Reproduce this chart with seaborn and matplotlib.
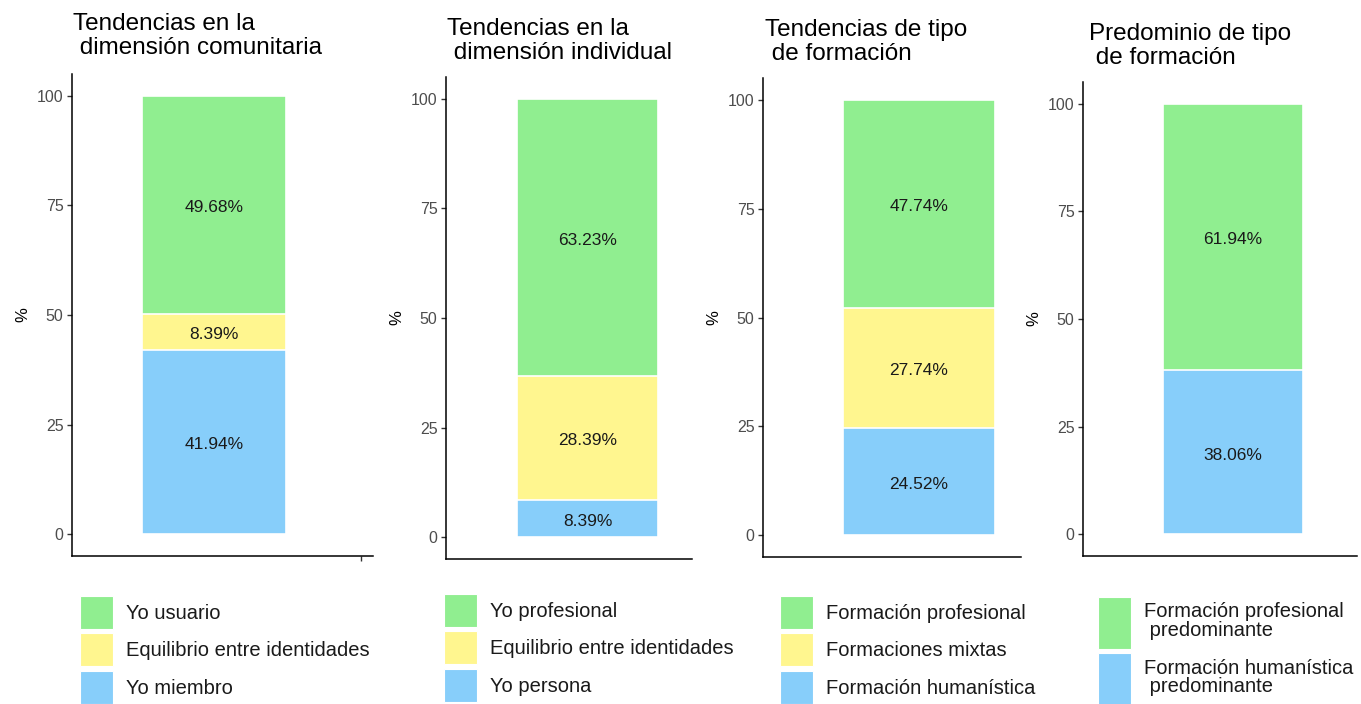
import matplotlib
matplotlib.use("Agg")
import matplotlib.pyplot as plt
import pandas as pd
import seaborn as sns
from matplotlib.patches import Patch

# ----------------------------- DATA --------------------------------------------------------------------

titles = [
    "Tendencias en la\n dimensión comunitaria",
    "Tendencias en la\n dimensión individual",
    "Tendencias de tipo\n de formación",
    "Predominio de tipo\n de formación",
]

# segments listed from top of the bar to the bottom
p1_labels = ["Yo usuario", "Equilibrio entre identidades", "Yo miembro"]
p1_values = [49.68, 8.39, 41.94]

p2_labels = ["Yo profesional", "Equilibrio entre identidades", "Yo persona"]
p2_values = [63.23, 28.39, 8.39]

p3_labels = ["Formación profesional", "Formaciones mixtas", "Formación humanística"]
p3_values = [47.74, 27.74, 24.52]

p4_labels = ["Formación profesional\n predominante", "Formación humanística\n predominante"]
p4_values = [61.94, 38.06]

y_ticks = [0, 25, 50, 75, 100]

# ----------------------------- STYLE / LAYOUT ----------------------------------------------------------

GREEN, YELLOW, BLUE = "#90EE90", "#FFF68F", "#87CEFA"
panel_colors = [
    [GREEN, YELLOW, BLUE],
    [GREEN, YELLOW, BLUE],
    [GREEN, YELLOW, BLUE],
    [GREEN, BLUE],
]

W, H = 1361, 704

# pixel boxes: axes left, right, top, bottom, bar left, bar right
boxes = [
    (72, 373, 74, 556, 142, 286),
    (446, 692, 77, 559, 517, 658),
    (763, 1021, 78, 557, 843, 995),
    (1083, 1357, 82, 556, 1163, 1303),
]
title_pos = [(73, 13), (447, 18), (765, 19), (1089, 23)]
legend_pos = [(80, 596), (444, 594), (780, 596), (1098, 597)]
LEG_FS = 14.5


def handle_height(px):
    # legend handleheight (font units) that gives a key box of `px` pixels
    pt = px * 72 / 100
    return (pt / LEG_FS - 0.245) / 0.65


sns.set_style("ticks")
plt.rcParams["font.family"] = ["Liberation Sans", "DejaVu Sans"]

fig = plt.figure(figsize=(W / 100, H / 100), dpi=100)

panels = [
    (p1_labels, p1_values),
    (p2_labels, p2_values),
    (p3_labels, p3_values),
    (p4_labels, p4_values),
]

for i, (labels, values) in enumerate(panels):
    axL, axR, axT, axB, barL, barR = boxes[i]
    ax = fig.add_axes([axL / W, 1 - axB / H, (axR - axL) / W, (axB - axT) / H])

    # cumulative tops, counted from the bottom segment
    tops = []
    run = 0.0
    for v in values[::-1]:
        run += v
        tops.append(run)
    tops = tops[::-1]

    df = pd.DataFrame({"grp": ["g"] * len(labels), "top": tops, "seg": labels})
    palette = dict(zip(labels, panel_colors[i]))

    sns.barplot(
        data=df, x="grp", y="top", hue="seg", hue_order=labels,
        palette=palette, dodge=False, width=1.0, saturation=1,
        edgecolor="white", linewidth=1.2, errorbar=None, legend=False, ax=ax,
    )

    # value labels in the middle of each segment
    for top, v in zip(tops, values):
        ax.text(0, top - v / 2 - 0.6, f"{v:.2f}%", ha="center", va="center",
                fontsize=12.5, color="#1a1a1a")

    bw = barR - barL
    ax.set_xlim(-0.5 - (barL - axL) / bw, 0.5 + (axR - barR) / bw)
    ax.set_ylim(-5, 105)
    ax.set_yticks(y_ticks)
    ax.set_yticklabels([str(t) for t in y_ticks])
    if i == 0:
        ax.set_xticks([0.5 + (361 - barR) / bw])
        ax.set_xticklabels([""])
    else:
        ax.set_xticks([])
    ax.set_xlabel("")
    ax.set_ylabel("%", fontsize=12, labelpad=5, color="black")

    sns.despine(ax=ax)
    for s in ["left", "bottom"]:
        ax.spines[s].set_color("black")
        ax.spines[s].set_linewidth(1.1)
    ax.tick_params(axis="both", left=True, bottom=True, length=3.6, width=1,
                   color="#333333", labelsize=11.5, labelcolor="#4D4D4D", pad=2.5)

    tx, ty = title_pos[i]
    fig.text(tx / W, 1 - ty / H, titles[i], ha="left", va="top",
             fontsize=17.5, linespacing=1.1, color="black")

    handles = [Patch(facecolor=palette[l], edgecolor="white", linewidth=0.8) for l in labels]
    lx, ly = legend_pos[i]
    hh = handle_height(33) if i < 3 else handle_height(52)
    leg = fig.legend(
        handles, labels, loc="upper left", bbox_to_anchor=(lx / W, 1 - ly / H),
        frameon=False, fontsize=LEG_FS, handlelength=1.65, handleheight=hh,
        labelspacing=0.22, handletextpad=0.62, borderpad=0, borderaxespad=0,
    )
    for t in leg.get_texts():
        t.set_linespacing(0.95)
        t.set_color("#1a1a1a")

fig.savefig("out.png", dpi=100)
